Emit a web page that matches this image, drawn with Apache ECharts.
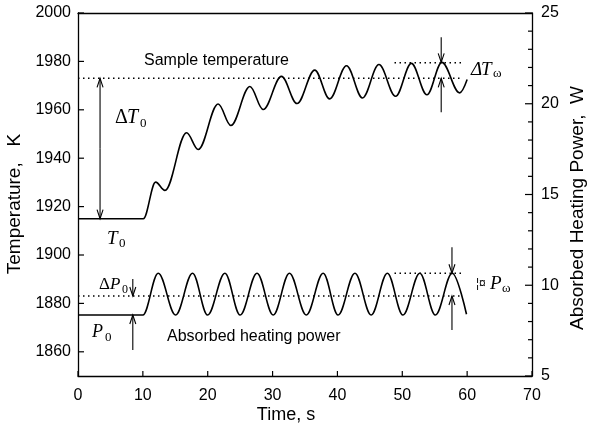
<!DOCTYPE html>
<html>
<head>
<meta charset="utf-8">
<script src="https://cdn.jsdelivr.net/npm/echarts@6/dist/echarts.min.js"></script>
<style>
html, body { margin: 0; padding: 0; background: #fff; }
#chart { width: 593px; height: 428px; }
</style>
</head>
<body>
<div id="chart"></div>
<script>
// sample temperature (K, left axis): flat start, then peaks / troughs
const tempTime  = [0, 10.07, 11.97, 13.4, 16.74, 18.53, 21.61, 23.57, 26.5, 28.55, 31.37, 33.77, 36.5, 38.8, 41.4, 43.86, 46.4, 48.97, 51.4, 53.8, 56.1, 58.85, 60];
const tempValue = [1915, 1915, 1930.1, 1926.7, 1950.5, 1943.6, 1962.4, 1953.5, 1969.6, 1960.1, 1973.8, 1962.6, 1976.4, 1964.5, 1978.2, 1964.9, 1978.7, 1965.6, 1979.2, 1966.2, 1979.6, 1967, 1972.5];

// absorbed heating power (W, right axis)
const powerTime  = [0, 10, 12.37, 15.05, 17.66, 19.98, 22.65, 25, 27.6, 30.1, 32.6, 35.2, 37.8, 40.1, 42.7, 45.2, 47.7, 50.1, 52.7, 55.1, 57.7, 59.9];
const powerValue = [8.36, 8.36, 10.66, 8.36, 10.66, 8.36, 10.66, 8.36, 10.66, 8.36, 10.66, 8.36, 10.66, 8.36, 10.66, 8.36, 10.66, 8.36, 10.66, 8.36, 10.66, 8.4];

const xTicks = [0, 10, 20, 30, 40, 50, 60, 70];
const tempTicks = [1860, 1880, 1900, 1920, 1940, 1960, 1980, 2000];
const powerTicks = [5, 10, 15, 20, 25];
const powerMinor = [6, 7, 8, 9, 11, 12, 13, 14, 16, 17, 18, 19, 21, 22, 23, 24];

// dotted reference levels: [axis, y, xFrom, xTo]
const levelAxis = [0, 0, 1, 1];
const levelY    = [1973, 1979.4, 9.41, 10.66];
const levelFrom = [0, 48.8, 0, 48.8];
const levelTo   = [59.3, 59.3, 59.3, 59.3];

// arrows: [axis, x, yFrom, yTo(tip)]
const arrowAxis = [0, 0, 0, 0, 1, 1, 1, 1];
const arrowX    = [3.4, 3.4, 56.0, 56.0, 8.45, 8.45, 57.66, 57.66];
const arrowFrom = [1944, 1944, 1990, 1959, 10.35, 6.43, 12.1, 7.53];
const arrowTo   = [1973, 1915, 1979.6, 1973, 9.41, 8.36, 10.66, 9.41];

const chart = echarts.init(document.getElementById('chart'));
const black = '#000';
const sans = 'Liberation Sans';
const serif = 'Liberation Serif';

function pairs(xs, ys) { return xs.map((x, i) => [x, ys[i]]); }
const plain = v => String(v);
const axisLine = { show: true, onZero: false, lineStyle: { color: black, width: 1.3 } };

chart.setOption({
    animation: false,
    grid: { left: 78, right: 61, top: 13, bottom: 52 },
    xAxis: [{
        type: 'value', min: 0, max: 70, interval: 10, position: 'bottom',
        axisLine: axisLine, axisTick: { show: false },
        axisLabel: { color: black, fontSize: 16, fontFamily: sans, margin: 12, formatter: plain },
        splitLine: { show: false }
    }, {
        // top frame line
        type: 'value', min: 0, max: 70, position: 'top',
        axisLine: axisLine, axisTick: { show: false }, axisLabel: { show: false }, splitLine: { show: false }
    }],
    yAxis: [{
        type: 'value', min: 1850, max: 2000, position: 'left',
        axisLine: axisLine, axisTick: { show: false },
        axisLabel: { color: black, fontSize: 16, fontFamily: sans, margin: 7, customValues: tempTicks, formatter: plain },
        splitLine: { show: false }
    }, {
        type: 'value', min: 5, max: 25, interval: 5, position: 'right',
        axisLine: axisLine, axisTick: { show: false },
        axisLabel: { color: black, fontSize: 16, fontFamily: sans, margin: 9, formatter: plain },
        splitLine: { show: false }
    }],
    series: [{
        name: 'Sample temperature', type: 'line', yAxisIndex: 0,
        data: pairs(tempTime, tempValue),
        smooth: 0.36, smoothMonotone: 'x', showSymbol: false,
        lineStyle: { color: black, width: 1.6 }
    }, {
        name: 'Absorbed heating power', type: 'line', yAxisIndex: 1,
        data: pairs(powerTime, powerValue),
        smooth: 0.36, smoothMonotone: 'x', showSymbol: false,
        lineStyle: { color: black, width: 1.6 }
    }]
});

function px(axis, x, y) {
    return chart.convertToPixel({ xAxisIndex: 0, yAxisIndex: axis }, [x, y]);
}

const g = [];
function seg(x1, y1, x2, y2, w) {
    g.push({ type: 'line', shape: { x1: x1, y1: y1, x2: x2, y2: y2 },
        style: { stroke: black, lineWidth: w || 1.2 }, z: 10 });
}

// inward ticks
xTicks.forEach(v => { const p = px(0, v, 1850); seg(p[0], p[1], p[0], p[1] - 5); });
tempTicks.forEach(v => { const p = px(0, 0, v); seg(p[0], p[1], p[0] + 6, p[1]); });
powerTicks.forEach(v => { const p = px(1, 70, v); seg(p[0], p[1], p[0] - 7, p[1]); });
powerMinor.forEach(v => { const p = px(1, 70, v); seg(p[0], p[1], p[0] - 4, p[1]); });

levelY.forEach((y, i) => {
    const a = px(levelAxis[i], levelFrom[i], y);
    const b = px(levelAxis[i], levelTo[i], y);
    g.push({ type: 'line', shape: { x1: a[0], y1: a[1], x2: b[0], y2: b[1] },
        style: { stroke: black, lineWidth: 1.5, lineDash: [1.5, 3.5] }, z: 10 });
});
arrowX.forEach((x, i) => {
    const a = px(arrowAxis[i], x, arrowFrom[i]);
    const b = px(arrowAxis[i], x, arrowTo[i]);
    const d = b[1] > a[1] ? -1 : 1;
    seg(a[0], a[1], b[0], b[1], 1.1);
    g.push({ type: 'polyline', shape: { points: [[b[0] - 3, b[1] + d * 9], [b[0], b[1]], [b[0] + 3, b[1] + d * 9]] },
        style: { stroke: black, lineWidth: 1.1, fill: null }, z: 10 });
});

function txt(x, y, text, size, family, italic) {
    g.push({ type: 'text', x: x, y: y, z: 20,
        style: { text: text, fontSize: size, fontFamily: family, fontStyle: italic ? 'italic' : 'normal',
            fill: black, textVerticalAlign: 'middle' } });
}
txt(144, 61, 'Sample temperature', 16, sans);
txt(167, 337, 'Absorbed heating power', 16, sans);
// ΔT0
txt(115, 118, 'Δ', 20, serif);
txt(127, 118, 'T', 20, serif, true);
txt(140, 124, '0', 13, serif);
// T0
txt(107, 239, 'T', 19, serif, true);
txt(119, 244, '0', 13, serif);
// ΔP0
txt(99, 285, 'Δ', 17, serif);
txt(110, 285, 'P', 17, serif, true);
txt(122, 290, '0', 12, serif);
// P0
txt(92, 332, 'P', 18, serif, true);
txt(105, 338, '0', 13, serif);
// ΔTω
txt(471, 70, 'Δ', 19, serif, true);
txt(481, 70, 'T', 19, serif, true);
txt(493, 74, 'ω', 13, serif);
// Pω
txt(476, 284, '¦¤', 12, sans);
txt(490, 284, 'P', 19, serif, true);
txt(502, 289, 'ω', 13, serif);

g.push({ type: 'text', x: 286, y: 415, z: 20,
    style: { text: 'Time, s', fontSize: 18, fontFamily: sans, fill: black, textAlign: 'center', textVerticalAlign: 'middle' } });
g.push({ type: 'text', x: 15, y: 204, rotation: Math.PI / 2, z: 20,
    style: { text: 'Temperature,   K', fontSize: 19, fontFamily: sans, fill: black, textAlign: 'center', textVerticalAlign: 'middle' } });
g.push({ type: 'text', x: 578, y: 208, rotation: Math.PI / 2, z: 20,
    style: { text: 'Absorbed Heating Power,  W', fontSize: 19, fontFamily: sans, fill: black, textAlign: 'center', textVerticalAlign: 'middle' } });

chart.setOption({ graphic: g });
</script>
</body>
</html>
